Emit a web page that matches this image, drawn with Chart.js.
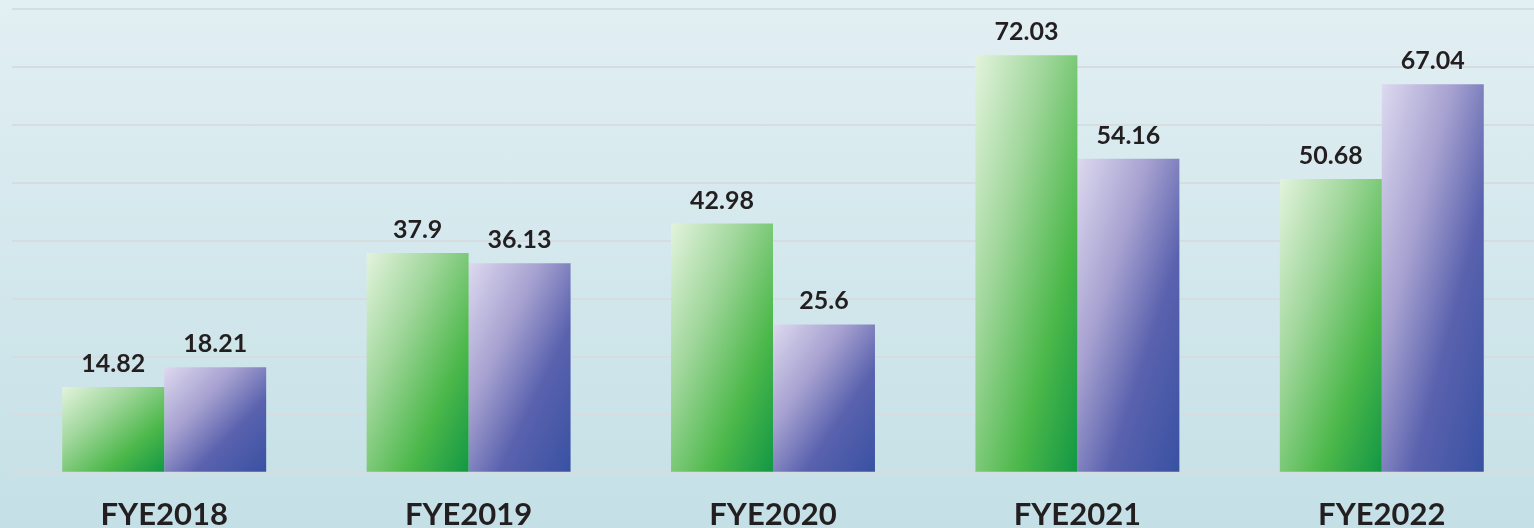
<!DOCTYPE html>
<html lang="en">
<head>
    <meta charset="UTF-8">
    <title>FYE Bar Chart</title>
    <script src="https://cdn.jsdelivr.net/npm/chart.js"></script>
    <style>
        html, body {
            margin: 0;
            padding: 0;
        }
        body {
            width: 1534px;
            height: 528px;
            background: linear-gradient(to bottom, #e2eff3, #c4e0e6);
        }
        #wrap {
            position: relative;
            width: 1534px;
            height: 528px;
        }
    </style>
</head>
<body>
    <div id="wrap"><canvas id="myChart"></canvas></div>

    <script>
        // chart data
        const years = ['FYE2018', 'FYE2019', 'FYE2020', 'FYE2021', 'FYE2022'];
        const greenValues = [14.82, 37.9, 42.98, 72.03, 50.68];
        const purpleValues = [18.21, 36.13, 25.6, 54.16, 67.04];

        const catPct = 0.67;

        // gradient stops for each series (top-left -> bottom-right)
        const greenStops = [[0, '#e3f3dd'], [0.35, '#9fd69a'], [0.7, '#4cb84a'], [1, '#129744']];
        const purpleStops = [[0, '#ddd9ef'], [0.35, '#a6a1d0'], [0.65, '#5a62ae'], [1, '#3851a2']];

        // diagonal gradient scaled to the bar's box
        function barGradient(context, stops) {
            const chart = context.chart;
            if (!chart.chartArea || context.type !== 'data') return stops[2][1];
            const xs = chart.scales.x, ys = chart.scales.y;
            const center = xs.getPixelForValue(context.dataIndex);
            const w = (xs.width / years.length) * catPct / 2;
            const x0 = context.datasetIndex === 0 ? center - w : center;
            const y0 = ys.getPixelForValue(context.raw);
            const h = ys.getPixelForValue(0) - y0;
            const k = 2 * w * h / (h * h + w * w);
            const g = chart.ctx.createLinearGradient(x0, y0, x0 + h * k, y0 + w * k);
            stops.forEach(s => g.addColorStop(s[0], s[1]));
            return g;
        }

        // value labels above bars
        const valueLabels = {
            id: 'valueLabels',
            afterDatasetsDraw(chart) {
                const ctx = chart.ctx;
                ctx.save();
                ctx.font = 'bold 25px Lato, sans-serif';
                ctx.fillStyle = '#231f20';
                ctx.textAlign = 'center';
                ctx.textBaseline = 'alphabetic';
                chart.data.datasets.forEach((ds, i) => {
                    chart.getDatasetMeta(i).data.forEach((bar, j) => {
                        ctx.fillText(String(ds.data[j]), bar.x, bar.y - 15);
                    });
                });
                ctx.restore();
            }
        };

        new Chart(document.getElementById('myChart'), {
            type: 'bar',
            data: {
                labels: years,
                datasets: [{
                    data: greenValues,
                    backgroundColor: c => barGradient(c, greenStops),
                    categoryPercentage: catPct,
                    barPercentage: 1
                }, {
                    data: purpleValues,
                    backgroundColor: c => barGradient(c, purpleStops),
                    categoryPercentage: catPct,
                    barPercentage: 1
                }]
            },
            options: {
                responsive: true,
                maintainAspectRatio: false,
                animation: false,
                layout: { padding: { left: 12, top: 9, right: 0, bottom: -22 } },
                plugins: {
                    legend: { display: false },
                    tooltip: { enabled: false }
                },
                scales: {
                    x: {
                        grid: { display: false },
                        border: { display: false },
                        ticks: {
                            color: '#231f20',
                            font: { family: 'Lato, sans-serif', weight: 'bold', size: 31 },
                            padding: 16
                        }
                    },
                    y: {
                        min: 0,
                        max: 80,
                        ticks: { display: false, stepSize: 10 },
                        border: { display: false },
                        grid: { color: '#d6dde0', lineWidth: 2, drawTicks: false }
                    }
                }
            },
            plugins: [valueLabels]
        });
    </script>
</body>
</html>
